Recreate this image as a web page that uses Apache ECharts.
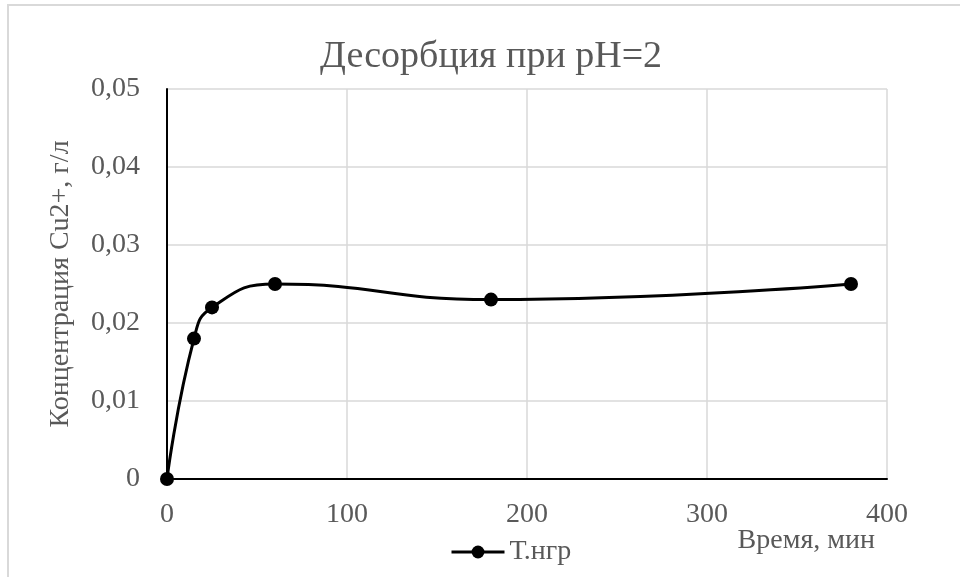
<!DOCTYPE html>
<html>
<head>
<meta charset="utf-8">
<script src="https://cdn.jsdelivr.net/npm/echarts@6/dist/echarts.min.js"></script>
<style>
  html, body { margin: 0; padding: 0; background: #ffffff; }
  #chart { width: 960px; height: 577px; }
</style>
</head>
<body>
<div id="chart"></div>
<script>
// Desorption kinetics at pH 2
const chartTitle = 'Десорбция при pH=2';
const seriesName = 'Т.нгр';
const xAxisName = 'Время, мин';
const yAxisName = 'Концентрация Cu2+, г/л';

const timeMin = [0, 15, 25, 60, 180, 380];
const concentration = [0, 0.018, 0.022, 0.025, 0.023, 0.025];

const xRange = { min: 0, max: 400, step: 100 };
const yRange = { min: 0, max: 0.05, step: 0.01 };

const FONT = "'Liberation Serif', 'Times New Roman', serif";
const TEXT = '#595959';
const GRID = '#d9d9d9';

const chart = echarts.init(document.getElementById('chart'), null, { renderer: 'canvas' });

chart.setOption({
  animation: false,
  backgroundColor: '#ffffff',
  textStyle: { fontFamily: FONT },
  graphic: [{
    type: 'rect',
    shape: { x: 8, y: 5, width: 970, height: 600 },
    style: { fill: 'none', stroke: GRID, lineWidth: 2 },
    silent: true
  }, {
    // x-axis caption, right-aligned below the last tick label
    type: 'text',
    x: 875,
    y: 541,
    silent: true,
    style: {
      text: xAxisName,
      fill: TEXT,
      font: "28px 'Liberation Serif', 'Times New Roman', serif",
      align: 'right',
      verticalAlign: 'middle'
    }
  }],
  title: {
    text: chartTitle,
    left: 320,
    top: 38,
    padding: 0,
    textStyle: { fontFamily: FONT, fontSize: 38, fontWeight: 'normal', color: TEXT, lineHeight: 38 }
  },
  legend: {
    data: [seriesName],
    left: 450,
    top: 538,
    padding: 0,
    itemWidth: 53,
    itemHeight: 16,
    lineStyle: { width: 3 },
    textStyle: { fontFamily: FONT, fontSize: 28, color: TEXT }
  },
  grid: { left: 167, right: 73, top: 89, bottom: 98, containLabel: false, outerBoundsMode: 'none' },
  xAxis: {
    type: 'value',
    min: xRange.min,
    max: xRange.max,
    interval: xRange.step,
    axisLine: { onZero: false, lineStyle: { color: '#000000', width: 2 } },
    axisTick: { show: false },
    axisLabel: { margin: 22, fontFamily: FONT, fontSize: 28, color: TEXT },
    splitLine: { show: true, lineStyle: { color: GRID, width: 1.5 } }
  },
  yAxis: {
    type: 'value',
    min: yRange.min,
    max: yRange.max,
    interval: yRange.step,
    name: yAxisName,
    nameLocation: 'middle',
    nameGap: 92,
    nameTextStyle: { fontFamily: FONT, fontSize: 28, color: TEXT, lineHeight: 28 },
    axisLine: { show: true, lineStyle: { color: '#000000', width: 2 } },
    axisTick: { show: false },
    axisLabel: {
      margin: 27,
      fontFamily: FONT, fontSize: 28, color: TEXT,
      formatter: v => (v === 0 ? '0' : v.toFixed(2).replace('.', ','))
    },
    splitLine: { show: true, lineStyle: { color: GRID, width: 1.5 } }
  },
  series: [{
    name: seriesName,
    type: 'line',
    smooth: true,
    data: timeMin.map((t, i) => [t, concentration[i]]),
    symbol: 'circle',
    symbolSize: 14,
    lineStyle: { color: '#000000', width: 3 },
    itemStyle: { color: '#000000' },
    z: 5
  }]
});
</script>
</body>
</html>
